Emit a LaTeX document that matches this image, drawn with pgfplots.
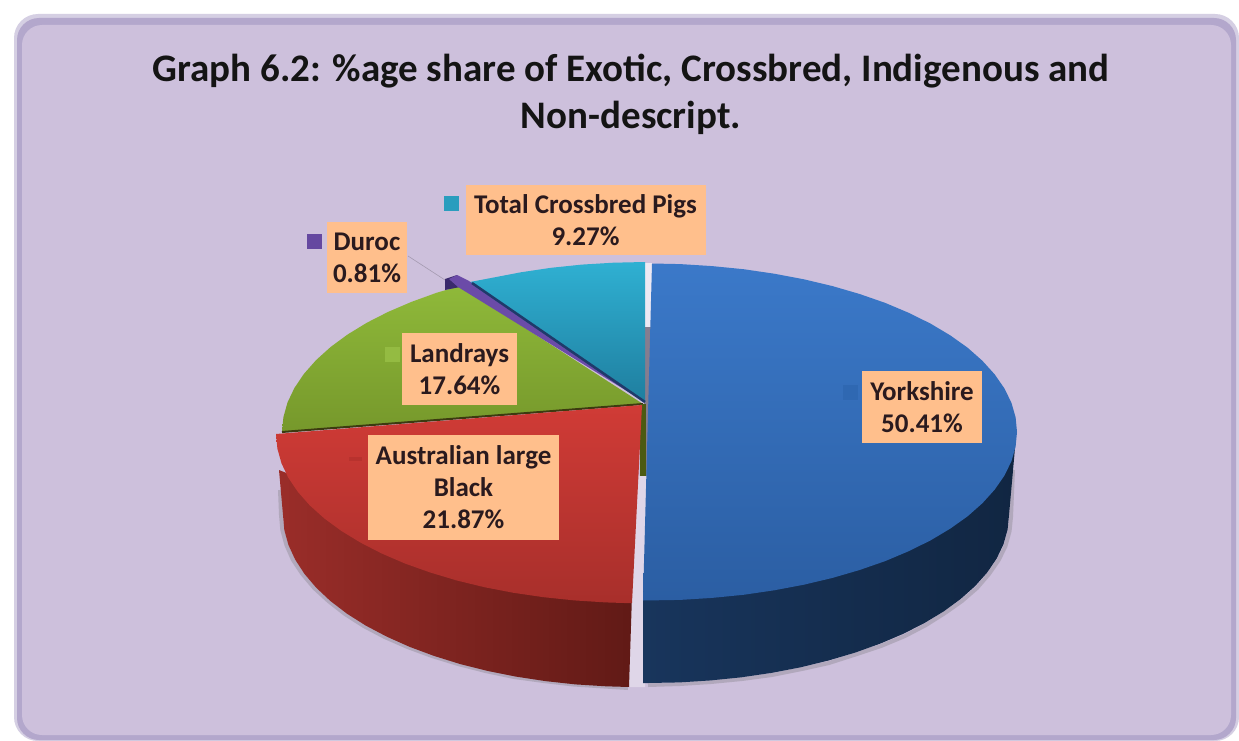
\documentclass[border=0pt]{standalone}
\usepackage{fontspec}
\setmainfont{Carlito}
\usepackage{pgfplots}
\pgfplotsset{compat=1.18}
\definecolor{panel}{HTML}{CDC0DC}
\definecolor{paneledge}{HTML}{B3A7CC}
\definecolor{peach}{HTML}{FFBF8C}
\definecolor{inktext}{HTML}{2A1A1E}
\definecolor{blueside}{HTML}{18355C}
\definecolor{bluesideb}{HTML}{112642}
\definecolor{bluetop}{HTML}{3B79C9}
\definecolor{bluebot}{HTML}{2B5EA3}
\definecolor{cyantop}{HTML}{2FB0D2}
\definecolor{cyanbot}{HTML}{1F7E9F}
\definecolor{greentop}{HTML}{8FB93A}
\definecolor{greenbot}{HTML}{76982B}
\definecolor{greenline}{HTML}{3C3A10}
\definecolor{durocdark}{HTML}{3A2A6C}
\definecolor{durocpurple}{HTML}{6B4BA8}
\definecolor{durocline}{HTML}{1F3A6A}
\definecolor{olive}{HTML}{4C5A12}
\definecolor{redsideL}{HTML}{9A2D29}
\definecolor{redsideR}{HTML}{611A16}
\definecolor{redtop}{HTML}{D03B36}
\definecolor{redbot}{HTML}{A82F2B}
\definecolor{keycyan}{HTML}{2A9DBE}
\definecolor{keypurple}{HTML}{6548A0}
\definecolor{keygreen}{HTML}{94BB42}
\definecolor{keyred}{HTML}{B8322E}
\definecolor{keyblue}{HTML}{2F68B2}
\tikzset{
  lab/.style={fill=peach, inner sep=0pt, align=center, text=inktext,
    font=\fontsize{27}{32}\selectfont\bfseries},
}
\begin{document}
\begin{tikzpicture}
\begin{axis}[
    width=1239pt, height=741pt, scale only axis,
    xmin=0, xmax=1239, ymin=0, ymax=741,
    y dir=reverse, hide axis, clip=true,
]
% panel behind the chart
\fill[white] (axis cs:0,0) rectangle (axis cs:1239,741);
\fill[paneledge!55, rounded corners=24pt] (axis cs:14,14) rectangle (axis cs:1239,741);
\fill[paneledge, rounded corners=22pt] (axis cs:17,18) rectangle (axis cs:1236,740);
\fill[panel, rounded corners=20pt] (axis cs:22,25) rectangle (axis cs:1231,735);

% shadows under the side walls
\addplot[draw=black!55, opacity=.3, line width=4pt] coordinates {
 (1013,470)(1011,517)(1009.6,531)(1005.5,546)(998.7,560)(989,574)(977,588)(962,601)(945,613)(926,625)(905,636)(881,646)(857,654)(829,663)(802,669)(772,675)(742,679)(711,682)(680,684)(648,685)};
\addplot[draw=black!55, opacity=.3, line width=4pt] coordinates {
 (280,490)(281,515)(282.3,530)(286.4,545)(293,560)(302.4,574)(314.2,588)(328.4,601)(345,614)(363.8,626)(384.7,637)(407.5,647)(432,656)(458,664)(485.4,671)(514,677)(543.4,681)(573.5,684.5)(604,686.5)(628,688)};

% light gap and the inner walls
\addplot[fill=white!65!panel, draw=none] coordinates {(644,263)(652,263)(652,330)(644,330)} -- cycle;
\addplot[fill=black!35!panel, draw=none] coordinates {(644,327)(652,327)(652,480)(644,480)} -- cycle;
\addplot[fill=white!35!panel, draw=none] coordinates {(632,476)(648,476)(645,687)(629,687)} -- cycle;

% Yorkshire, side then top
\addplot[left color=blueside, middle color=bluesideb, right color=bluesideb, draw=none] coordinates {
 (1015,448)(1009,515)(1007.6,529.6)(1003.5,544.2)(996.7,558.5)(987.2,572.5)(975.2,586)(960.6,599)(943.7,611.4)(924.5,623)(903.3,633.8)(880,643.7)(855.1,652.6)(828.5,660.5)(800.6,667.3)(771.5,672.9)(741.4,677.3)(710.7,680.4)(679.5,682.4)(648,683)(643,683)(643,590)(1000,440)} -- cycle;
\addplot[top color=bluetop, bottom color=bluebot, draw=none] coordinates {
 (652,263.5)(680.2,264.1)(712.1,266.1)(743.5,269.2)(774.2,273.7)(803.9,279.3)(832.5,286.1)(859.6,294)(885.2,302.9)(908.9,312.9)(930.7,323.7)(950.3,335.4)(967.6,347.7)(982.4,360.8)(994.7,374.4)(1004.4,388.4)(1011.4,402.7)(1015.6,417.3)(1017,432)
 (1015.6,446.7)(1011.4,461.3)(1004.4,475.6)(994.7,489.6)(982.4,503.2)(967.6,516.3)(950.3,528.6)(930.7,540.3)(908.9,551.1)(885.2,561.1)(859.6,570)(832.5,577.9)(803.9,584.7)(774.2,590.3)(743.5,594.8)(712.1,597.9)(680.2,599.9)(643,600.5)} -- cycle;

% Total Crossbred Pigs
\addplot[top color=cyantop, bottom color=cyanbot, draw=none] coordinates {
 (645,262)(613.4,262.7)(581.9,264.6)(551,267.8)(520.8,272.3)(491.6,277.9)(470,282)(645,402)} -- cycle;

% Landrays
\addplot[top color=greentop, bottom color=greenbot, draw=none] coordinates {
 (460,286)(436.8,292.7)(411.7,301.8)(388.3,311.8)(366.9,322.7)(347.6,334.5)(330.6,347)(316,360.2)(303.9,373.9)(294.4,388)(287.5,402.5)(283.4,417.2)(282,432)(643,404)} -- cycle;
\addplot[draw=greenline, line width=2pt] coordinates {(282,432)(643,404)};

% Duroc
\addplot[fill=durocdark, draw=none] coordinates {(445,279)(457,275)(460,287)(445,290)} -- cycle;
\addplot[fill=durocpurple, draw=none] coordinates {(449,279)(457,275)(469,281)(643,401)(458,287)} -- cycle;
\addplot[draw=durocline, line width=2.5pt] coordinates {(472,283)(645,402)};

% olive wall below the centre
\addplot[fill=olive, draw=none] coordinates {(640,404)(646,404)(646,476)(640,476)} -- cycle;

% Australian large Black, side then top
\addplot[left color=redsideL, right color=redsideR, draw=none] coordinates {
 (279,470)(283,515)(284.3,530)(288.4,544.9)(295.1,559.5)(304.4,573.8)(316.2,587.7)(330.4,601)(347,613.7)(365.8,625.6)(386.7,636.6)(409.5,646.8)(434,655.9)(460,664)(487.4,670.9)(515.9,676.6)(545.4,681.1)(575.5,684.4)(606.1,686.3)(629,687)(632,595)(500,560)} -- cycle;
\addplot[top color=redtop, bottom color=redbot, draw=none] coordinates {
 (276,434)(642,405)(632,603)(624,603)(605.5,602.4)(574.3,600.4)(543.6,597.2)(513.5,592.8)(484.4,587.2)(456.5,580.4)(429.9,572.4)(404.9,563.5)(381.7,553.5)(360.5,542.6)(341.3,530.9)(324.4,518.5)(309.8,505.4)(297.8,491.8)(288.3,477.7)(281.5,463.3)(277.4,448.7)} -- cycle;

% legend keys
\addplot[only marks, mark=square*, mark size=7pt, mark options={draw=keycyan, fill=keycyan}] coordinates {(451,203)};
\addplot[only marks, mark=square*, mark size=7pt, mark options={draw=keypurple, fill=keypurple}] coordinates {(314,241)};
\addplot[only marks, mark=square*, mark size=7pt, mark options={draw=keygreen, fill=keygreen}] coordinates {(392,354)};
\addplot[draw=keyred, line width=4pt] coordinates {(349,459)(362,459)};
\addplot[only marks, mark=square*, mark size=7pt, mark options={draw=keyblue, fill=keyblue}] coordinates {(850,392)};
\addplot[draw=black!20!panel, line width=.6pt] coordinates {(408,256)(445,280)};

% labels
\node[lab, minimum width=240pt, minimum height=70pt] at (axis cs:585.5,220) {Total Crossbred Pigs\\9.27\%};
\node[lab, minimum width=80pt, minimum height=71pt] at (axis cs:367,257.5) {Duroc\\0.81\%};
\node[lab, minimum width=115pt, minimum height=72pt] at (axis cs:459.5,369) {Landrays\\17.64\%};
\node[lab, minimum width=191pt, minimum height=105pt] at (axis cs:463.5,487.5) {Australian large\\Black\\21.87\%};
\node[lab, minimum width=120pt, minimum height=72pt] at (axis cs:922,407) {Yorkshire\\50.41\%};

\node[align=center, text=black!92, font=\fontsize{39}{47}\selectfont\bfseries] at (axis cs:631,94)
 {Graph 6.2: \%age share of Exotic, Crossbred, Indigenous and\\Non-descript.};
\end{axis}
\end{tikzpicture}
\end{document}
